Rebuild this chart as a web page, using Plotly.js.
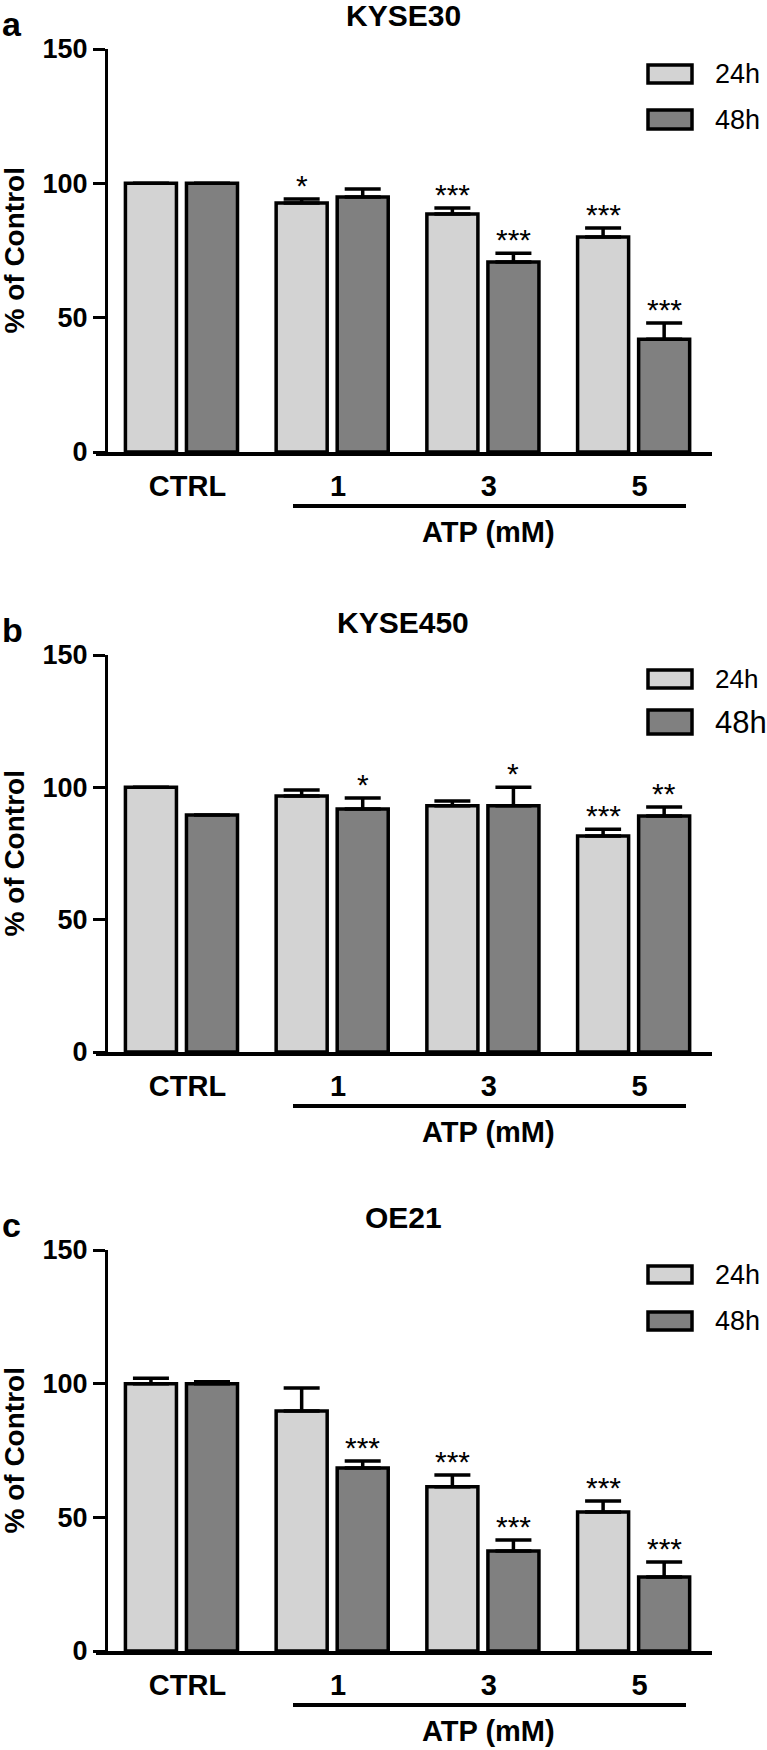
<!DOCTYPE html>
<html><head><meta charset="utf-8">
<script src="https://cdn.plot.ly/plotly-3.0.1.min.js"></script>
<style>html,body{margin:0;padding:0;background:#fff}</style>
</head><body>
<div id="chart" style="width:767px;height:1750px"></div>
<script>
// ---------- data ----------
const categories = ["CTRL", "1", "3", "5"];
const seriesNames = ["24h", "48h"];
const panelLetters = ["a", "b", "c"];
const panelTitles = ["KYSE30", "KYSE450", "OE21"];
const yTickVals = [0, 50, 100, 150];
const xGroupLabel = "ATP (mM)";
const yAxisLabel = "% of Control";

// KYSE30
const kyse30_24h = [100, 92.7, 88.6, 80.0];
const kyse30_24h_err = [0, 1.5, 2.2, 3.4];
const kyse30_48h = [100, 94.9, 70.7, 42.0];
const kyse30_48h_err = [0, 3.0, 3.3, 6.0];
const kyse30_24h_sig = ["", "*", "***", "***"];
const kyse30_48h_sig = ["", "", "***", "***"];
// KYSE450
const kyse450_24h = [100, 96.7, 93.0, 81.6];
const kyse450_24h_err = [0, 2.3, 1.8, 2.6];
const kyse450_48h = [89.5, 91.8, 93.0, 89.2];
const kyse450_48h_err = [0, 4.2, 7.0, 3.4];
const kyse450_24h_sig = ["", "", "", "***"];
const kyse450_48h_sig = ["", "*", "*", "**"];
// OE21
const oe21_24h = [100, 89.8, 61.4, 52.0];
const oe21_24h_err = [2.0, 8.6, 4.4, 4.1];
const oe21_48h = [100, 68.5, 37.4, 27.7];
const oe21_48h_err = [0.7, 2.6, 4.1, 5.6];
const oe21_24h_sig = ["", "", "***", "***"];
const oe21_48h_sig = ["", "***", "***", "***"];

// ---------- styling / layout helpers ----------
const W = 767, H = 1750;
const X = px => px / W;
const Y = px => 1 - px / H;
const FONT = "Liberation Sans, Arial, Helvetica, sans-serif";
const colors = ["#d3d3d3", "#808080"];
const panelsY = [[49, 452], [655, 1052], [1250, 1651]]; // top(150) / bottom(0) in px
const legendBoxes = [[[65, 83], [110, 129]], [[670, 688], [710, 734]], [[1266, 1283], [1312, 1330]]];
const legendSizes = [[27, 27], [26, 31], [27, 27]];
const bargap = 0.19, bargroupgap = 0.164;
const xRange = [-0.567, 3.52];
const xDomainPx = [96, 712];
const yAxisPx = 106;

const panels = [
  {v: [kyse30_24h, kyse30_48h], e: [kyse30_24h_err, kyse30_48h_err], s: [kyse30_24h_sig, kyse30_48h_sig]},
  {v: [kyse450_24h, kyse450_48h], e: [kyse450_24h_err, kyse450_48h_err], s: [kyse450_24h_sig, kyse450_48h_sig]},
  {v: [oe21_24h, oe21_48h], e: [oe21_24h_err, oe21_48h_err], s: [oe21_24h_sig, oe21_48h_sig]}
];

const idx = categories.map((_, i) => i);
const slotHalf = (1 - bargap) / 4; // offset of each bar's centre from group centre
const traces = [];
const annotations = [];
const shapes = [];
const layout = {
  width: W, height: H,
  margin: {l: 0, r: 0, t: 0, b: 0},
  paper_bgcolor: "#fff", plot_bgcolor: "rgba(0,0,0,0)",
  barmode: "group", bargap: bargap, bargroupgap: bargroupgap,
  showlegend: false,
  font: {family: FONT, color: "#000"},
  annotations: annotations, shapes: shapes
};

panels.forEach((p, k) => {
  const sfx = k === 0 ? "" : String(k + 1);
  const xa = "x" + sfx, ya = "y" + sfx;
  const [topPx, botPx] = panelsY[k];

  layout["xaxis" + sfx] = {
    domain: [X(xDomainPx[0]), X(xDomainPx[1])], anchor: ya, range: xRange,
    showline: true, linewidth: 3.5, linecolor: "#000", mirror: false,
    tickvals: idx, ticktext: categories, ticks: "", ticklabelshift: 6, ticklabelstandoff: 6,
    tickfont: {family: FONT, size: 29, weight: "bold", color: "#000"},
    showgrid: false, zeroline: false, fixedrange: true
  };
  layout["yaxis" + sfx] = {
    domain: [Y(botPx), Y(topPx)], anchor: "free", position: X(yAxisPx), range: [0, 150],
    showline: true, linewidth: 3, linecolor: "#000",
    tickvals: yTickVals, ticks: "outside", ticklen: 12, tickwidth: 3, tickcolor: "#000",
    tickfont: {family: FONT, size: 27, weight: "bold", color: "#000"},
    showgrid: false, zeroline: false, fixedrange: true
  };

  [0, 1].forEach(s => {
    traces.push({
      type: "bar", name: seriesNames[s], x: idx, y: p.v[s], xaxis: xa, yaxis: ya,
      marker: {color: colors[s], line: {color: "#000", width: 3.5}},
      error_y: {type: "data", symmetric: false, array: p.e[s], arrayminus: p.e[s].map(() => 0),
                color: "#000", thickness: 3.5, width: 18},
      hoverinfo: "skip"
    });
    p.s[s].forEach((txt, i) => {
      if (!txt) return;
      annotations.push({
        xref: xa, yref: ya, x: i + (s === 0 ? -slotHalf : slotHalf), y: p.v[s][i] + p.e[s][i],
        text: txt, showarrow: false, yanchor: "bottom", yshift: -5,
        font: {family: FONT, size: 30, color: "#000"}
      });
    });
  });

  // panel title
  annotations.push({xref: "paper", yref: "paper", x: X(403), y: Y(topPx - 33), xanchor: "center", yanchor: "middle",
    text: panelTitles[k], showarrow: false, font: {family: FONT, size: 30, weight: "bold", color: "#000"}});
  // panel letter
  annotations.push({xref: "paper", yref: "paper", x: 0, y: Y(topPx - 25), xanchor: "left", yanchor: "middle",
    text: panelLetters[k], showarrow: false, font: {family: FONT, size: 34, weight: "bold", color: "#000"}});
  // y axis title
  annotations.push({xref: "paper", yref: "paper", x: X(14), y: Y((topPx + botPx) / 2), xanchor: "center", yanchor: "middle",
    textangle: -90, text: yAxisLabel, showarrow: false, font: {family: FONT, size: 28, weight: "bold", color: "#000"}});
  // ATP label + underline
  shapes.push({type: "line", xref: "paper", yref: "paper", x0: X(293), x1: X(686), y0: Y(botPx + 54), y1: Y(botPx + 54),
    line: {color: "#000", width: 4}});
  annotations.push({xref: "paper", yref: "paper", x: X(488), y: Y(botPx + 80), xanchor: "center", yanchor: "middle",
    text: xGroupLabel, showarrow: false, font: {family: FONT, size: 29, weight: "bold", color: "#000"}});
  // legend
  legendBoxes[k].forEach((b, s) => {
    shapes.push({type: "rect", xref: "paper", yref: "paper", x0: X(648), x1: X(692), y0: Y(b[1]), y1: Y(b[0]),
      fillcolor: colors[s], line: {color: "#000", width: 3.5}});
    annotations.push({xref: "paper", yref: "paper", x: X(713), y: Y((b[0] + b[1]) / 2), xanchor: "left", yanchor: "middle",
      text: seriesNames[s], showarrow: false, font: {family: FONT, size: legendSizes[k][s], color: "#000"}});
  });
});

Plotly.newPlot("chart", traces, layout, {displayModeBar: false, staticPlot: true});
</script>
</body></html>
